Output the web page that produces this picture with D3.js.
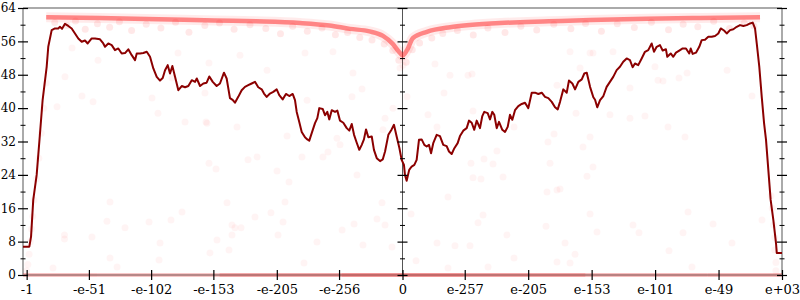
<!DOCTYPE html>
<html>
<head>
<meta charset="utf-8">
<script src="https://cdn.jsdelivr.net/npm/d3@7"></script>
<style>
  body { margin: 0; background: #fff; }
  svg { display: block; }
  .tick text { font-family: "DejaVu Serif", serif; font-size: 13px; fill: #000; }
  .yax .tick text { font-size: 12px; }
</style>
</head>
<body>
<div id="chart"></div>
<script>
const width = 800;
const height = 300;

// x runs over signed decimal exponent offset: -e+03 .. 0 .. e+03
const xTicks = [-308, -257, -206, -155, -103, -52, 0, 51, 103, 155, 207, 259, 311];
const xTickLabels = ["-1", "-e-51", "-e-102", "-e-153", "-e-205", "-e-256", "0",
                     "e-257", "e-205", "e-153", "e-101", "e-49", "e+03"];
const yMajor = [0, 8, 16, 24, 32, 40, 48, 56, 64];
const yMinor = [4, 12, 20, 28, 36, 44, 52, 60];

// rolling average (dark red line)
const lineU = [-311, -305.8, -304.4, -302.6, -299.8, -297.6, -294.9, -291.6, -290.3, -287.5, -284.8, -282.1, -280.7, -279.0, -276.6, -273.9, -271.1, -268.4, -265.7, -262.9, -260.2, -258.0, -254.7, -252.0, -247.9, -245.2, -243.8, -241.1, -238.3, -235.6, -232.9, -230.1, -227.4, -224.7, -221.9, -219.2, -217.8, -215.1, -212.4, -209.6, -206.9, -204.2, -201.4, -198.7, -196.5, -194.6, -192.4, -190.5, -188.6, -186.4, -183.7, -180.9, -178.2, -175.5, -172.7, -170.0, -168.6, -165.9, -163.2, -160.5, -158.3, -155.5, -152.3, -149.6, -146.3, -144.1, -141.4, -139.2, -137.3, -134.6, -131.8, -129.1, -126.4, -123.6, -120.9, -118.2, -115.4, -113.5, -111.3, -108.6, -105.9, -103.1, -101.0, -98.2, -95.5, -92.8, -90.0, -88.1, -86.7, -84.6, -82.6, -79.9, -78.0, -76.4, -74.4, -71.7, -69.8, -68.2, -65.4, -63.5, -61.6, -60.0, -58.0, -55.3, -53.4, -51.2, -48.5, -45.7, -43.6, -41.6, -39.7, -37.5, -35.4, -33.4, -31.6, -29.9, -28.0, -25.2, -23.4, -21.1, -18.4, -16.2, -14.3, -11.6, -8.9, -7.0, -4.8, -2.6, -0.7, 1.2, 2.0, 3.4, 5.5, 7.5, 9.7, 11.6, 13.5, 15.7, 17.9, 19.8, 21.7, 23.4, 25.2, 28.0, 30.7, 33.4, 36.2, 38.1, 40.3, 42.5, 45.2, 47.1, 49.8, 52.6, 54.5, 56.7, 58.8, 60.8, 63.5, 65.4, 67.0, 69.8, 71.7, 73.6, 75.2, 77.2, 79.1, 81.8, 84.0, 86.2, 88.1, 90.0, 92.2, 94.9, 97.7, 100.4, 103.1, 105.9, 108.6, 111.3, 114.1, 116.8, 119.5, 122.3, 125.0, 127.2, 129.1, 131.8, 134.6, 136.4, 139.2, 141.4, 144.1, 146.9, 149.0, 151.0, 153.7, 156.4, 157.8, 159.6, 161.9, 164.6, 167.3, 170.0, 172.7, 175.5, 178.2, 180.9, 183.7, 186.4, 188.6, 190.5, 193.2, 196.0, 198.7, 201.4, 204.2, 206.1, 208.3, 211.0, 213.2, 215.9, 217.0, 219.8, 221.9, 224.1, 226.8, 229.6, 232.3, 235.0, 236.2, 237.8, 240.5, 243.2, 245.2, 247.9, 250.6, 253.4, 256.1, 258.8, 260.8, 263.5, 265.7, 268.4, 271.1, 273.9, 276.6, 279.3, 282.1, 284.8, 287.0, 288.9, 290.3, 292.4, 294.4, 296.3, 297.9, 301.7, 303.9, 306.1, 306.7, 311];
const lineV = [6.8, 6.8, 9.2, 18, 24, 32, 42, 49.9, 54.7, 58.7, 59.1, 59.1, 59.5, 59.0, 60.2, 59.7, 59.1, 57.9, 56.7, 55.9, 56.2, 55.5, 56.7, 56.7, 56.5, 55.5, 54.7, 55.5, 55.1, 53.9, 54.3, 53.1, 53.2, 54.1, 52.7, 51.5, 53.1, 53.1, 53.2, 53.5, 52.3, 49.5, 47.5, 46.6, 47.2, 49.1, 50.3, 48.3, 50.1, 47.5, 44.3, 45.3, 45.0, 45.3, 46.7, 46.3, 47.1, 45.3, 45.9, 46.1, 47.6, 46.3, 45.3, 45.9, 48.5, 47.1, 42.4, 42.0, 41.3, 42.7, 44.3, 45.1, 45.5, 45.9, 46.3, 45.0, 44.5, 43.5, 42.7, 43.5, 43.9, 44.5, 43.1, 42.1, 43.4, 42.9, 43.4, 41.9, 39.1, 36.7, 34.3, 33.0, 32.5, 32.2, 34.0, 36.4, 37.6, 40.0, 39.8, 38.3, 39.1, 37.3, 39.5, 39.1, 39.4, 37.0, 36.5, 35.2, 34.6, 36.2, 33.6, 31.7, 30.0, 31.2, 32.5, 34.9, 33.0, 33.2, 30.0, 28.0, 27.3, 27.7, 29.6, 33.6, 34.9, 36.0, 33.2, 30.5, 27.6, 26.4, 24.0, 22.6, 25.2, 26.0, 26.4, 27.6, 32.4, 32.5, 31.2, 30.8, 31.2, 29.2, 31.6, 33.6, 33.3, 31.2, 30.9, 29.6, 29.0, 30.4, 31.6, 33.3, 34.6, 35.2, 37.0, 36.5, 34.8, 37.0, 35.2, 38.1, 39.1, 38.8, 37.3, 39.1, 38.4, 35.2, 36.7, 34.8, 34.3, 35.5, 38.4, 37.2, 39.5, 40.5, 41.0, 41.3, 40.0, 43.7, 43.7, 43.4, 43.7, 42.7, 42.4, 41.5, 40.2, 39.7, 41.5, 44.5, 43.7, 46.6, 45.9, 44.5, 46.3, 46.9, 48.3, 48.5, 45.1, 42.6, 42.0, 40.2, 41.9, 42.9, 45.1, 46.3, 47.5, 49.1, 49.9, 51.1, 51.9, 51.5, 49.8, 50.7, 50.3, 51.9, 53.5, 53.9, 55.5, 53.5, 54.7, 55.1, 53.8, 54.1, 52.3, 53.1, 52.3, 53.3, 53.8, 54.3, 54.3, 53.1, 54.3, 53.0, 53.3, 54.7, 56.3, 56.4, 57.1, 57.1, 57.3, 57.9, 59.1, 58.6, 57.9, 58.7, 58.9, 59.5, 59.9, 59.7, 59.9, 60.3, 60.5, 59.1, 55.5, 49.9, 42.7, 36.4, 32.4, 18.0, 13.2, 7.6, 5.3, 5.3];

// dense band of samples near full precision
const bandU = [-292, -248, -200, -154, -120, -84, -60, -43, -27, -16, -8, -2, 0, 3.7, 8.6, 20, 39, 55, 80, 120, 154, 200, 244, 293];
const bandV = [61.8, 61.6, 61.3, 61.0, 60.8, 60.4, 59.8, 59.0, 58.4, 57.3, 55.4, 53.2, 52.6, 53.9, 56.8, 58.3, 59.4, 59.9, 60.4, 60.8, 61.1, 61.4, 61.6, 61.8];

// faint samples just under the band
const hazeU = [-285, -275, -268, -260, -250, -240, -232, -222, -210, -198, -186, -175, -162, -150, -138, -125, -112, -100, -90, -78, -66, -55, -45, -35, -25, -15, -8, -3,
               3, 8, 14, 24, 33, 45, 58, 70, 84, 97, 110, 124, 138, 150, 163, 176, 190, 204, 218, 230, 242, 255, 268, 280, 288];
const hazeV = [60.5, 59.8, 60.9, 58.9, 60.2, 59.4, 60.7, 58.6, 60.1, 59.2, 60.6, 58.2, 59.8, 60.4, 58.9, 60.0, 59.1, 57.8, 59.6, 58.4, 59.2, 57.6, 58.1, 56.9, 56.3, 55.4, 53.8, 51.5,
               51.0, 54.0, 55.6, 56.8, 57.9, 58.6, 57.5, 59.2, 58.1, 59.6, 58.7, 60.1, 59.0, 60.3, 58.4, 60.2, 59.3, 60.6, 58.8, 60.1, 59.5, 60.8, 59.1, 60.4, 59.7];

// sparse samples across the plot
const sparseU = [-270.8, -249.5, -276.6, -205.3, -188.9, -178.2, -160.2, -253.6, -262.7, -283.1, -200.4, -184.0,
  -133.2, -158.6, -161.0, -135.6, -111.0, -78.2, -94.6, -82.4, -65.2, -61.1, -126.6, -119.2, -158.6, -152.8, -102.8, -93.0, -53.7, -51.2, -40.6, -33.2, -41.4, -16.0, -7.8, -14.3, -37.3, -161.9, -79.9, -57.0,
  26.6, 38.9, 53.7, 57.0, 34.0, 20.9, 28.3, 57.8, 91.4, 124.2, 119.2, 142.2, 147.9, 77.4, 66.8, 56.1, 74.2, 120.9, 156.1, 151.2, 57.8, 64.3, 82.4, 37.3, 118.4, 126.6, 129.1, 126.6, 145.5, 137.3, 153.7, 3.7, -2.0, 0.4,
  172.5, 186.4, 206.9, 209.4, 213.5, 226.6, 233.2, 266.0, 286.4, 170.0, 186.4, 198.7, 156.1, 153.7, 217.6, 231.5,
  -277.0, -277.0, -254.5, -242.2, -227.4, -239.7, -286.4, -207.7, -198.7, -199.5, -180.7, -189.7, -233.9, -239.7,
  -120.9, -107.8, -97.9, -139.7, -137.3, -132.3, -139.7, -152.0, -142.2, -157.8, -102.0, -70.1, -80.7, -49.5, -39.7, -32.4, -20.9, -14.3, -8.6, -16.8, -143.8, -96.3,
  7.0, 11.1, 28.3, 43.0, 55.3, 61.9, 66.0, 85.6, 91.4, 70.1, 37.3, 117.6, 133.2, 141.4, 126.6, 137.3, 153.7, 159.4,
  188.9, 193.8, 218.4, 234.0, 229.9, 254.5, 270.0, 237.2, 294.6,
  -308, -307, -306, -305, -304, -303, -302, -300, -298, -296, -294, -292,
  306, 306, 305, 305, 304, 303, 302];
const sparseV = [54.4, 51.5, 47.5, 42.4, 47.2, 36.7, 36.4, 41.5, 42.9, 40.3, 38.8, 53.2,
  52.7, 50.8, 36.7, 35.5, 49.1, 41.9, 33.3, 28.3, 28.3, 29.5, 27.6, 28.3, 26.8, 25.4, 24.9, 22.3, 32.8, 31.2, 48.4, 44.6, 42.7, 34.8, 40.0, 37.6, 24.0, 43.6, 53.2, 53.5,
  50.6, 47.9, 47.9, 48.2, 43.6, 38.4, 35.5, 39.3, 35.5, 33.8, 31.9, 38.8, 30.7, 29.7, 27.8, 26.8, 26.6, 26.8, 25.9, 23.7, 23.3, 23.0, 23.5, 18.7, 19.9, 20.4, 20.6, 45.5, 49.6, 53.5, 53.2, 42.7, 49.6, 50.3,
  53.5, 44.8, 49.9, 46.7, 46.5, 47.2, 48.4, 49.1, 42.9, 38.4, 37.6, 38.1, 53.2, 33.1, 35.5, 33.1,
  9.6, 8.6, 9.1, 12.9, 11.3, 4.1, 1.7, 12.7, 7.7, 3.6, 15.1, 13.2, 1.9, 17.5,
  13.9, 14.9, 12.7, 12.0, 11.3, 11.3, 9.6, 8.4, 6.0, 5.3, 9.6, 7.9, 2.9, 10.8, 12.2, 7.2, 13.4, 12.0, 6.7, 17.3, 17.3, 17.5,
  14.6, 3.4, 7.7, 7.0, 7.0, 12.5, 14.4, 9.6, 4.1, 1.9, 1.7, 11.7, 7.7, 5.0, 3.1, 2.9, 14.6, 10.3,
  12.0, 10.1, 5.8, 15.1, 10.1, 12.2, 7.7, 1.9, 13.2,
  1, 2.5, 5, 8, 11, 14, 18, 23, 28, 34, 40, 46,
  1, 3, 6, 9, 12, 16, 19];

// samples with zero precision, relative density along x
const zeroU = [-311, -250, -150, -50, 0, 50, 150, 250, 311];
const zeroDensity = [0.6, 0.35, 0.55, 0.8, 0.9, 0.8, 0.65, 0.4, 0.7];

const x = d3.scaleLinear().domain([-311, 311]).range([23, 782]);
const y = d3.scaleLinear().domain([0, 64]).range([275, 8]);

const svg = d3.select('#chart').append('svg')
    .attr('width', width)
    .attr('height', height);

// frame lines
const frame = svg.append('g');
frame.append('line').attr('x1', x(-311)).attr('x2', x(311)).attr('y1', y(64)).attr('y2', y(64))
    .attr('stroke', '#aaa').attr('stroke-width', 2);
frame.append('line').attr('x1', x(-311)).attr('x2', x(311)).attr('y1', y(0)).attr('y2', y(0))
    .attr('stroke', '#aaa').attr('stroke-width', 2);
frame.append('line').attr('x1', x(-311)).attr('x2', x(-311)).attr('y1', y(0)).attr('y2', y(64))
    .attr('stroke', '#aaa').attr('stroke-width', 2);
frame.append('line').attr('x1', x(311)).attr('x2', x(311)).attr('y1', y(0)).attr('y2', y(64))
    .attr('stroke', '#aaa').attr('stroke-width', 2);
frame.append('line').attr('x1', x(0)).attr('x2', x(0)).attr('y1', y(0)).attr('y2', y(64))
    .attr('stroke', '#555').attr('stroke-width', 1);

// zero band
const zeroPts = zeroU.map((u, i) => [u, zeroDensity[i]]);
svg.append('g').selectAll('line')
    .data(d3.pairs(zeroPts))
    .enter().append('line')
    .attr('x1', d => x(d[0][0])).attr('x2', d => x(d[1][0]))
    .attr('y1', y(0)).attr('y2', y(0))
    .attr('stroke', '#e02020')
    .attr('stroke-width', 4)
    .attr('stroke-opacity', d => (d[0][1] + d[1][1]) / 2 * 0.55);

// sparse scatter
svg.append('g').selectAll('circle')
    .data(sparseU.map((u, i) => [u, sparseV[i]]))
    .enter().append('circle')
    .attr('cx', d => x(d[0])).attr('cy', d => y(d[1]))
    .attr('r', 3.5)
    .attr('fill', 'red')
    .attr('fill-opacity', 0.045);

// haze under band
svg.append('g').selectAll('circle')
    .data(hazeU.map((u, i) => [u, hazeV[i]]))
    .enter().append('circle')
    .attr('cx', d => x(d[0])).attr('cy', d => y(d[1]))
    .attr('r', 3.5)
    .attr('fill', 'red')
    .attr('fill-opacity', 0.09);

// top band
const bandLine = d3.line().curve(d3.curveMonotoneX).x(d => x(d[0])).y(d => y(d[1]));
const bandPts = bandU.map((u, i) => [u, bandV[i]]);
svg.append('path')
    .attr('d', bandLine(bandPts))
    .attr('fill', 'none')
    .attr('stroke', 'red')
    .attr('stroke-opacity', 0.08)
    .attr('stroke-width', 10);
svg.append('path')
    .attr('d', bandLine(bandPts))
    .attr('fill', 'none')
    .attr('stroke', '#ff2020')
    .attr('stroke-opacity', 0.5)
    .attr('stroke-width', 4.5);

// rolling average
const avgLine = d3.line().x(d => x(d[0])).y(d => y(d[1]));
svg.append('path')
    .attr('d', avgLine(lineU.map((u, i) => [u, lineV[i]])))
    .attr('fill', 'none')
    .attr('stroke', '#8b0000')
    .attr('stroke-width', 2)
    .attr('stroke-linejoin', 'round');

// y axes: left (labelled), middle and right (ticks only)
function yAxis(xPos, withLabels) {
    const g = svg.append('g').attr('class', 'yax').attr('transform', 'translate(' + xPos + ',0)');
    const major = g.append('g').call(d3.axisLeft(y).tickValues(yMajor).tickSize(5).tickPadding(2)
        .tickFormat(withLabels ? d3.format('d') : ''));
    major.select('.domain').remove();
    major.selectAll('.tick line').attr('x1', 5).attr('stroke', '#000').attr('stroke-width', 1.2);
    const minor = g.append('g').call(d3.axisLeft(y).tickValues(yMinor).tickSize(2.5).tickFormat(''));
    minor.select('.domain').remove();
    minor.selectAll('.tick line').attr('x1', 2.5).attr('stroke', '#000').attr('stroke-width', 1);
}
yAxis(x(-311), true);
yAxis(x(0), false);
yAxis(x(311), false);

// x axis
const xa = svg.append('g').attr('transform', 'translate(0,' + y(0) + ')')
    .call(d3.axisBottom(x).tickValues(xTicks).tickSize(5).tickPadding(5)
        .tickFormat((d, i) => xTickLabels[i]));
xa.select('.domain').remove();
xa.selectAll('.tick line').attr('y1', -5).attr('stroke', '#000').attr('stroke-width', 1.2);
</script>
</body>
</html>
